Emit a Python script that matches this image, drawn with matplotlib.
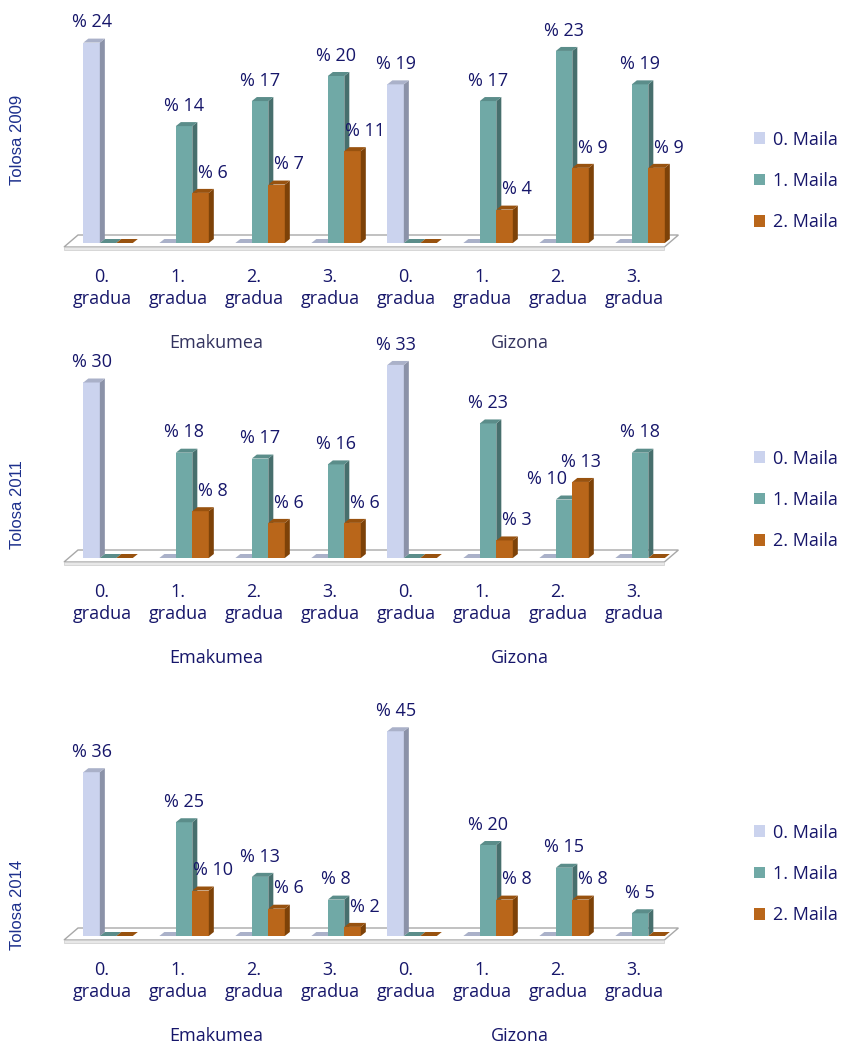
import numpy as np
import matplotlib.pyplot as plt
from matplotlib.patches import Polygon, Patch

plt.rcParams['font.family'] = ['Open Sans', 'DejaVu Sans']

# data
categories = ['0.\ngradua', '1.\ngradua', '2.\ngradua', '3.\ngradua'] * 2
series = ['0. Maila', '1. Maila', '2. Maila']
groups = ['Emakumea', 'Gizona']
years = ['Tolosa 2009', 'Tolosa 2011', 'Tolosa 2014']

maila0_2009 = [24, 0, 0, 0, 19, 0, 0, 0]
maila1_2009 = [0, 14, 17, 20, 0, 17, 23, 19]
maila2_2009 = [0, 6, 7, 11, 0, 4, 9, 9]

maila0_2011 = [30, 0, 0, 0, 33, 0, 0, 0]
maila1_2011 = [0, 18, 17, 16, 0, 23, 10, 18]
maila2_2011 = [0, 8, 6, 6, 0, 3, 13, 0]

maila0_2014 = [36, 0, 0, 0, 45, 0, 0, 0]
maila1_2014 = [0, 25, 13, 8, 0, 20, 15, 5]
maila2_2014 = [0, 10, 6, 2, 0, 8, 8, 0]

panels_data = [
    (maila0_2009, maila1_2009, maila2_2009),
    (maila0_2011, maila1_2011, maila2_2011),
    (maila0_2014, maila1_2014, maila2_2014),
]

# front, side, top colours for each series
colors = [
    ('#cbd3ee', '#8b92a8', '#aab1c9'),
    ('#70a9a6', '#476f6d', '#5b8d8a'),
    ('#b9661a', '#7d4208', '#98520f'),
]
navy = '#16166a'
group_colors = ['#33335f', navy, navy]
fs = 13

W, H = 845, 1043
# (baseline px, top px, px per unit, legend centre px, ylabel centre px)
layout = [
    (243, 15, 8.35, 181, 140),
    (558, 333, 5.85, 500, 505),
    (936, 700, 4.55, 874, 905),
]
px_x = 76.0  # pixels per category
bar_w = 0.217

fig = plt.figure(figsize=(W / 100, H / 100), dpi=100)

for p, (vals, (base, top, ppu, leg_y, lab_y)) in enumerate(zip(panels_data, layout)):
    ax = fig.add_axes([64 / W, 1 - base / H, 608 / W, (base - top) / H])
    ax.patch.set_visible(False)
    ax.set_xlim(-0.5, 7.5)
    ax.set_ylim(0, (base - top) / ppu)
    for s in ax.spines.values():
        s.set_visible(False)
    ax.set_yticks([])
    ax.set_xticks(range(len(categories)))
    ax.set_xticklabels(categories, fontsize=fs, color=navy)
    for t in ax.get_xticklabels():
        t.set_linespacing(1.3)
    ax.tick_params(axis='x', length=0, pad=18)

    dx = 5 / px_x
    dy = 4 / ppu

    # floor
    fy1, fy2, fdx = 4 / ppu, 8 / ppu, 14 / px_x
    floor = [(-0.5, -fy1), (7.4, -fy1), (7.4 + fdx, fy2), (-0.5 + fdx, fy2)]
    ax.add_patch(Polygon(floor, closed=True, fc='white', ec='#a8a8a8', lw=1.0,
                         zorder=1, clip_on=False))
    strip = [(-0.5, -fy1), (7.4, -fy1), (7.4, -fy1 - 2.5 / ppu), (-0.5, -fy1 - 2.5 / ppu)]
    ax.add_patch(Polygon(strip, closed=True, fc='#e8e8e8', ec='#cccccc', lw=0.5,
                         zorder=1, clip_on=False))

    x = np.arange(len(categories))
    for k, v in enumerate(vals):
        xs = x + 0.08 + (k - 1) * bar_w
        front, side, topc = colors[k]
        bars = ax.bar(xs, v, bar_w, color=front, linewidth=0, zorder=3 + k)
        for i, b in enumerate(bars):
            x0 = b.get_x()
            x1 = x0 + b.get_width()
            h = b.get_height()
            if h > 0:
                ax.add_patch(Polygon([(x1, 0), (x1, h), (x1 + dx, h + dy), (x1 + dx, dy)],
                                     closed=True, fc=side, ec='none', zorder=3 + k))
            ax.add_patch(Polygon([(x0, h), (x1, h), (x1 + dx, h + dy), (x0 + dx, h + dy)],
                                 closed=True, fc=topc, ec='none', zorder=3 + k,
                                 clip_on=False))
            if h > 0:
                off = 0
                if k == 2:
                    off = 0 if h > vals[1][i] else 9
                if k == 1 and vals[2][i] > h:
                    off = -12
                ax.annotate(f'% {h:g}', xy=(b.get_x() + b.get_width() / 2, h),
                            xytext=(off, 11), textcoords='offset points',
                            ha='center', va='baseline', fontsize=fs, color=navy,
                            zorder=10, annotation_clip=False)

    for g, name in enumerate(groups):
        ax.annotate(name, xy=(1.5 + 4 * g, 0), xytext=(0, -72),
                    textcoords='offset points', ha='center', va='center',
                    fontsize=fs, color=group_colors[p], annotation_clip=False)

    fig.text(18 / W, 1 - lab_y / H, years[p], rotation=90, ha='center',
             va='center', fontsize=12, color='#1c2f8c',
             family=['Liberation Sans', 'DejaVu Sans'])

    handles = [Patch(facecolor=c[0], edgecolor='none') for c in colors]
    fig.legend(handles, series, loc='center left',
               bbox_to_anchor=(754 / W, 1 - leg_y / H), frameon=False,
               fontsize=fs, labelcolor=navy, handlelength=0.6,
               handleheight=0.6, handletextpad=0.45, labelspacing=1.3,
               borderpad=0, borderaxespad=0)

fig.savefig('out.png', dpi=100)
